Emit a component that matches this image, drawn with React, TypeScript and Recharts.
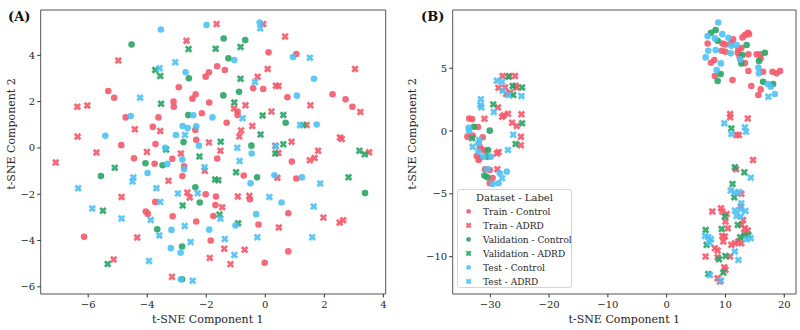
import React from 'react';
import { ScatterChart, Scatter, XAxis, YAxis, ReferenceArea, Legend } from 'recharts';

type Pt = [number, number];

const FONT = '"DejaVu Serif", serif';
const RED = '#f45a6b';
const GREEN = '#29a566';
const BLUE = '#4fc2f4';

const SERIES_NAMES = [
  'Train - Control',
  'Train - ADRD',
  'Validation - Control',
  'Validation - ADRD',
  'Test - Control',
  'Test - ADRD',
];
const SERIES_COLORS = [RED, RED, GREEN, GREEN, BLUE, BLUE];
const SERIES_MARKERS = ['circle', 'cross', 'circle', 'cross', 'circle', 'cross'];

const AXIS_X_TITLE = 't-SNE Component 1';
const AXIS_Y_TITLE = 't-SNE Component 2';
const LEGEND_TITLE = 'Dataset - Label';

// ---------- Panel (A) ----------
const A_X_TICKS = [-6, -4, -2, 0, 2, 4];
const A_Y_TICKS = [-6, -4, -2, 0, 2, 4];
const A_X_DOMAIN: Pt = [-7.61, 4.08];
const A_Y_DOMAIN: Pt = [-6.31, 5.96];

const aTrainControl: Pt[] = [
  [0.11, 4.13], [1.05, 4.06], [-1.63, 3.53], [-1.91, 3.27], [-2.02, 3.08], [-1.37, 3.37],
  [-2.93, 2.62], [-0.41, 2.58], [-0.07, 2.55], [-5.32, 2.46], [-5.12, 2.17], [-2.36, 2.32],
  [-2.47, 2.13], [0.75, 2.19], [2.28, 2.32], [2.72, 2.1], [-3.11, 2.0], [-3.1, 1.78],
  [-1.9, 1.96], [-0.94, 1.57], [-0.94, 1.42], [2.95, 1.78], [-4.73, 1.32], [-3.62, 1.32],
  [-1.31, 1.09], [-2.15, 1.5], [-3.81, 0.91], [-2.37, 0.78], [-4.88, 0.12], [-3.72, 0.17],
  [-2.34, 0.35], [-1.63, -0.46], [-4.45, -0.45], [-3.75, -0.68], [-3.15, -0.47], [-2.75, -0.79],
  [0.9, -0.59], [-2.81, -1.21], [-0.73, -1.19], [1.05, -1.32], [-2.02, -2.0], [-1.67, -2.1],
  [-0.52, -2.22], [-3.73, -2.33], [-1.69, -2.47], [-4.05, -2.75], [-3.98, -2.85], [-3.14, -2.95],
  [-1.76, -2.94], [0.78, -2.82], [-0.23, -3.31], [-2.34, -3.18], [-6.14, -3.84], [-1.85, -4.0],
  [0.78, -4.47], [-0.02, -4.96],
];
const aTrainAdrd: Pt[] = [
  [-1.65, 5.35], [-0.07, 5.35], [0.67, 4.81], [-2.67, 4.63], [-4.98, 3.78], [3.04, 3.41],
  [-0.26, 3.08], [0.08, 3.41], [0.36, 2.69], [0.45, 2.68], [-6.37, 1.78], [-6.03, 1.83],
  [-1.06, 1.7], [-0.67, 1.84], [1.53, 1.84], [3.22, 1.55], [0.21, 1.57], [1.4, 0.99],
  [-6.36, 0.49], [-4.42, 0.81], [-3.56, 0.73], [-0.82, 0.75], [-0.88, 0.5], [-0.44, 0.95],
  [2.53, 0.45], [2.59, 0.39], [0.89, 0.27], [-1.91, 0.24], [0.34, 0.1], [-5.72, -0.2],
  [-4.01, -0.17], [-2.86, -0.24], [-1.52, -0.12], [0.44, -0.22], [1.79, -0.12], [1.67, -0.43],
  [1.51, -0.53], [3.52, -0.19], [-7.1, -0.63], [-2.05, -0.98], [-3.28, -1.42], [0.41, -1.29],
  [-2.64, -1.93], [-2.56, -2.14], [-0.93, -2.1], [-0.54, -2.07], [-4.87, -2.12], [-1.46, -2.56],
  [1.97, -3.01], [2.64, -3.12], [2.52, -3.22], [0.46, -3.44], [-4.34, -3.87], [-1.39, -4.35],
  [-0.7, -4.4], [-1.88, -4.75], [-5.14, -4.82], [-1.18, -5.02], [-3.16, -5.57],
];
const aValControl: Pt[] = [
  [-4.53, 4.47], [-1.41, 4.73], [-0.68, 4.66], [-1.25, 3.87], [-2.59, 3.01], [-0.89, 2.43],
  [-1.42, 2.27], [0.69, 1.09], [-2.61, 1.42], [-2.77, 0.26], [-0.47, 0.1], [-4.06, -0.66],
  [-3.48, -0.75], [-5.57, -1.21], [-0.28, -1.27], [-2.37, -1.7], [-2.22, -2.36], [-3.66, -3.51],
  [-2.82, -4.26], [-2.82, -5.67], [3.38, -1.95],
];
const aValAdrd: Pt[] = [
  [-2.6, 4.27], [-1.68, 4.29], [-0.84, 4.36], [-3.73, 3.37], [-3.56, 3.11], [-0.84, 2.99],
  [-3.53, 1.91], [-1.05, 1.96], [-0.09, 1.4], [0.61, 1.42], [1.29, 0.99], [-0.16, 0.58],
  [-3.36, -0.07], [-1.51, 0.27], [0.61, 0.16], [-2.23, -0.37], [0.34, -0.24], [3.19, -0.12],
  [3.37, -0.27], [-5.1, -0.86], [-1.7, -1.36], [-1.59, -1.4], [2.82, -1.27], [-2.8, -2.49],
  [-5.5, -2.71], [-1.55, -2.88], [-0.92, -3.25], [-5.34, -5.01], [-0.99, -1.05],
];
const aTestControl: Pt[] = [
  [-3.54, 5.12], [-1.99, 5.31], [-0.19, 5.42], [-1.05, 3.8], [0.94, 3.93], [-2.7, 3.27],
  [1.65, 2.99], [1.07, 2.26], [-4.56, 1.38], [-2.44, 1.41], [-1.79, 1.32], [1.74, 1.01],
  [-5.42, 0.53], [-2.8, 0.95], [-2.63, 0.86], [-2.34, 0.94], [-3.03, 0.56], [-3.39, 0.01],
  [-2.25, 0.1], [-0.46, -0.24], [-2.81, -0.5], [-2.75, -0.92], [-3.99, -1.08], [0.31, -1.18],
  [1.24, -1.27], [-0.5, -1.53], [0.55, -2.36], [-0.31, -2.86], [-1.01, -3.35], [-3.18, -3.54],
  [-1.9, -3.53], [-3.2, -4.33], [-2.87, -4.53], [-2.86, -5.67], [-3.32, -0.69],
];
const aTestAdrd: Pt[] = [
  [-0.17, 5.17], [-3.05, 3.7], [1.51, 3.9], [-3.58, 3.44], [-0.35, 2.85], [-4.24, 2.17],
  [-0.77, 1.28], [1.18, 0.99], [-2.72, 0.56], [-0.95, 0.01], [0.36, 0.06], [-2.06, -0.83],
  [-0.87, -0.56], [-4.47, -1.28], [-4.5, -1.45], [1.86, -1.54], [-6.34, -1.74], [-3.69, -1.74],
  [-2.96, -1.97], [-2.29, -1.96], [0.14, -2.12], [-3.56, -2.33], [1.64, -2.53], [-5.86, -2.62],
  [-1.52, -3.05], [-4.87, -3.05], [-3.88, -3.11], [-2.73, -3.37], [-3.59, -3.78], [-2.53, -4.06],
  [-1.37, -3.93], [-0.27, -3.86], [1.59, -3.86], [-1.05, -4.62], [-3.94, -4.88], [-2.46, -5.74],
];

// ---------- Panel (B) ----------
const B_X_TICKS = [-30, -20, -10, 0, 10, 20];
const B_Y_TICKS = [-10, -5, 0, 5];
const B_X_DOMAIN: Pt = [-36.4, 22.0];
const B_Y_DOMAIN: Pt = [-12.97, 9.63];

const bTrainControl: Pt[] = [
  [-33.6, 1.0], [-33.1, 0.95], [-32.1, 0.32], [-33.9, -0.45], [-33.0, -0.37], [-31.8, -1.25],
  [-31.3, -0.5], [-31.5, -1.46], [-30.9, -1.56], [-32.3, -1.99], [-31.8, -2.17], [-32.0, -2.3],
  [-30.9, -3.05], [-30.1, -3.1], [-29.6, -3.74], [-30.1, -4.16],
  [6.97, 6.97], [11.3, 7.29], [12.9, 7.45], [13.3, 7.63], [13.8, 7.82], [14.0, 7.71],
  [9.5, 6.97], [10.0, 6.89], [12.2, 6.49], [12.7, 6.6], [9.35, 6.39], [10.0, 6.31],
  [12.1, 6.23], [13.9, 6.1], [15.3, 6.1], [15.9, 6.1], [16.0, 5.78], [8.1, 5.65],
  [7.54, 5.43], [13.3, 5.4], [13.9, 4.77], [16.4, 4.72], [18.0, 4.72], [19.3, 4.77],
  [18.7, 4.59], [8.2, 4.37], [11.2, 4.06], [14.4, 3.58], [16.0, 3.31], [15.6, 2.86],
  [11.0, 7.0], [12.4, 5.9],
];
const bTrainAdrd: Pt[] = [
  [-27.9, 4.37], [-26.8, 4.37], [-25.8, 4.37], [-28.6, 3.45], [-27.5, 3.47], [-25.7, 3.6],
  [-25.5, 3.47], [-27.3, 2.94], [-26.6, 3.07], [-28.7, 1.88], [-27.7, 1.25], [-27.0, 1.38],
  [-28.0, 1.14], [-24.7, 1.33], [-26.3, 0.66], [-25.5, 0.4], [-24.8, -0.45], [-24.8, -1.14],
  [-28.6, -1.67], [-28.9, -1.78], [-31.0, 0.98], [-28.8, -3.05],
  [10.8, 1.35], [10.8, 1.09], [13.8, 1.0], [11.9, -0.32], [12.3, -0.32], [14.7, -2.3],
  [11.8, -3.05], [12.7, -5.0], [7.76, -6.41], [9.23, -6.15], [9.46, -6.41], [10.0, -7.21],
  [13.0, -7.08], [12.7, -7.47], [13.3, -7.74], [13.8, -7.92], [10.4, -7.74], [9.46, -8.35],
  [9.9, -8.4], [9.63, -8.8], [11.6, -8.93], [12.2, -8.8], [12.7, -8.93], [13.2, -8.1],
  [11.0, -9.06], [8.2, -9.33], [8.67, -9.51], [6.63, -9.99], [8.67, -10.05], [10.8, -9.99],
  [9.8, -10.84], [10.0, -11.05], [8.67, -11.71], [9.06, -11.98], [12.6, -6.0], [10.2, -6.6],
];
const bValControl: Pt[] = [
  [-32.8, 0.34], [-30.1, 0.03], [-30.4, -1.51], [-30.5, -2.04], [-31.0, -3.55], [-30.5, -3.68],
  [7.54, 7.82], [8.33, 8.03], [8.67, 7.18], [13.6, 6.84], [12.9, 6.04], [16.7, 6.23],
  [12.7, 5.38], [15.7, 5.57], [9.18, 4.53], [8.67, 3.98], [16.4, 3.92], [18.1, 3.74],
];
const bValAdrd: Pt[] = [
  [-26.9, 4.32], [-26.2, 3.58], [-24.6, 3.47], [-26.1, 2.86], [-29.5, 2.12], [-24.6, 0.61],
  [-25.7, -1.03], [-33.1, -0.58],
  [11.0, 0.21], [11.6, -2.89], [13.2, -3.29], [11.2, -4.21], [11.5, -5.27], [9.9, -6.81],
  [12.1, -7.47], [6.63, -7.87], [9.35, -7.79], [6.8, -9.06], [12.5, -8.45], [13.2, -8.35],
  [13.9, -8.3], [8.9, -10.2], [10.0, -9.94], [9.63, -11.26], [7.08, -11.37],
];
const bTestControl: Pt[] = [
  [-33.7, 0.26], [-33.6, 0.0], [-32.0, -0.98], [-32.0, -1.64], [-31.2, -2.04], [-29.9, -2.04],
  [-30.5, -3.02], [-27.2, -3.23], [-28.4, -3.37], [-29.6, -4.21], [-28.6, -4.16],
  [8.78, 8.64], [6.97, 7.55], [8.2, 7.37], [9.46, 7.71], [10.5, 7.42], [11.0, 6.79],
  [11.9, 6.84], [7.08, 6.39], [8.33, 6.44], [10.9, 6.18], [6.63, 5.86], [9.23, 5.38],
  [12.5, 5.7], [15.6, 5.06], [15.7, 4.59], [8.5, 4.85], [17.2, 3.74], [17.7, 3.52], [18.4, 2.94],
];
const bTestAdrd: Pt[] = [
  [-28.9, 4.0], [-28.0, 3.92], [-27.9, 3.2], [-26.9, 2.86], [-24.7, 2.78], [-31.6, 2.52],
  [-31.7, 2.07], [-31.5, 1.88], [-29.4, 1.51], [-26.1, -0.29], [-27.0, -1.51], [-33.0, -1.25],
  [-31.9, -0.72], [-28.0, -3.76],
  [17.3, 2.73],
  [9.8, 0.61], [13.3, 0.29], [13.5, -0.05], [11.0, -0.24], [14.3, -3.71], [10.9, -4.74],
  [11.6, -4.9], [12.3, -4.85], [12.7, -5.75], [11.6, -6.33], [12.6, -6.23], [13.4, -6.36],
  [11.9, -6.76], [12.6, -6.81], [7.08, -8.45], [7.54, -8.61], [6.52, -8.35], [13.6, -8.61],
  [14.3, -8.53], [11.6, -9.59], [12.2, -10.26], [7.37, -11.45], [9.2, -11.9], [7.3, -8.9],
];

const PANEL_A = [aTrainControl, aTrainAdrd, aValControl, aValAdrd, aTestControl, aTestAdrd];
const PANEL_B = [bTrainControl, bTrainAdrd, bValControl, bValAdrd, bTestControl, bTestAdrd];

// ---------- markers ----------
// filled "X" marker: a plus outline rotated by 45 degrees
const ARM = 3.9;
const HALF = 1.4;
const PLUS: Pt[] = [
  [HALF, ARM], [HALF, HALF], [ARM, HALF], [ARM, -HALF], [HALF, -HALF], [HALF, -ARM],
  [-HALF, -ARM], [-HALF, -HALF], [-ARM, -HALF], [-ARM, HALF], [-HALF, HALF], [-HALF, ARM],
];
const X_OUTLINE: Pt[] = PLUS.map(([a, b]) => [(a - b) / Math.SQRT2, (a + b) / Math.SQRT2]);

function markerEl(kind: string, color: string, cx: number, cy: number, scale = 1, key?: string) {
  if (kind === 'circle') {
    return <circle key={key} cx={cx} cy={cy} r={3.3 * scale} fill={color} fillOpacity={0.9} />;
  }
  const pts = X_OUTLINE.map(([a, b]) => `${cx + a * scale},${cy + b * scale}`).join(' ');
  return <polygon key={key} points={pts} fill={color} fillOpacity={0.9} />;
}

const makeShape = (kind: string, color: string) => (props: any) => {
  if (props.cx == null || props.cy == null) return <g />;
  return markerEl(kind, color, props.cx, props.cy);
};

const fmt = (v: number) => String(v).replace('-', '\u2212');

const tickStyle = { fontFamily: FONT, fontSize: 10, fill: '#262626' };

function LegendBox() {
  return (
    <svg width={115} height={99} style={{ display: 'block' }}>
      <rect x={0.5} y={0.5} width={114} height={98} rx={2.5} fill="#fff" fillOpacity={0.85} stroke="#d4d4d4" />
      <text x={57.5} y={11.8} textAnchor="middle" fontFamily={FONT} fontSize={10} fill="#262626">
        {LEGEND_TITLE}
      </text>
      {SERIES_NAMES.map((name, i) => {
        const cy = 22.4 + i * 14;
        return (
          <g key={name}>
            {markerEl(SERIES_MARKERS[i], SERIES_COLORS[i], 11.6, cy, SERIES_MARKERS[i] === 'circle' ? 0.72 : 0.78)}
            <text x={26} y={cy + 3.2} fontFamily={FONT} fontSize={9} fill="#262626">
              {name}
            </text>
          </g>
        );
      })}
    </svg>
  );
}

type PanelProps = {
  data: Pt[][];
  xDomain: Pt;
  yDomain: Pt;
  xTicks: number[];
  yTicks: number[];
  yAxisWidth: number;
  rightMargin: number;
  xTitleShift: number;
  yTitleX: number;
  yTitleY: number;
  withLegend?: boolean;
};

function Panel(p: PanelProps) {
  return (
    <ScatterChart width={400} height={330} margin={{ top: 10, right: p.rightMargin, bottom: 0, left: 0 }}>
      <XAxis
        type="number"
        dataKey="x"
        domain={p.xDomain}
        allowDataOverflow
        ticks={p.xTicks}
        interval={0}
        tickFormatter={fmt}
        height={36}
        axisLine={false}
        tickLine={{ stroke: '#333' }}
        tickSize={3.5}
        tickMargin={3}
        tick={tickStyle}
        label={{
          content: (lp: any) => {
            const vb = lp.viewBox || { x: 0, y: 0, width: 0 };
            return (
              <text
                x={vb.x + vb.width / 2 + p.xTitleShift}
                y={vb.y + 28.5}
                textAnchor="middle"
                fontFamily={FONT}
                fontSize={11}
                fill="#262626"
              >
                {AXIS_X_TITLE}
              </text>
            );
          },
        }}
      />
      <YAxis
        type="number"
        dataKey="y"
        domain={p.yDomain}
        allowDataOverflow
        ticks={p.yTicks}
        interval={0}
        tickFormatter={fmt}
        width={p.yAxisWidth}
        axisLine={false}
        tickLine={{ stroke: '#333' }}
        tickSize={3.5}
        tickMargin={2}
        tick={tickStyle}
        label={{
          content: () => (
            <text
              x={p.yTitleX}
              y={p.yTitleY}
              transform={`rotate(-90, ${p.yTitleX}, ${p.yTitleY})`}
              textAnchor="middle"
              fontFamily={FONT}
              fontSize={11}
              fill="#262626"
            >
              {AXIS_Y_TITLE}
            </text>
          ),
        }}
      />
      <ReferenceArea
        x1={p.xDomain[0]}
        x2={p.xDomain[1]}
        y1={p.yDomain[0]}
        y2={p.yDomain[1]}
        fill="none"
        stroke="#555"
        strokeWidth={1}
        strokeOpacity={1}
        fillOpacity={0}
      />
      {p.data.map((pts, i) => (
        <Scatter
          key={SERIES_NAMES[i]}
          name={SERIES_NAMES[i]}
          data={pts.map(([x, y]) => ({ x, y }))}
          fill={SERIES_COLORS[i]}
          shape={makeShape(SERIES_MARKERS[i], SERIES_COLORS[i])}
          isAnimationActive={false}
        />
      ))}
      {p.withLegend && (
        <Legend
          layout="vertical"
          align="center"
          verticalAlign="middle"
          content={() => <LegendBox />}
          wrapperStyle={{ left: 56.7, top: 189.3, width: 115, height: 99, bottom: 'auto', right: 'auto' }}
        />
      )}
    </ScatterChart>
  );
}

const panelLabel: React.CSSProperties = {
  position: 'absolute',
  fontFamily: FONT,
  fontWeight: 'bold',
  fontSize: 13,
  color: '#111',
  lineHeight: '13px',
};

export default function App() {
  return (
    <div
      style={{
        position: 'absolute',
        left: 0,
        top: 0,
        width: 800,
        height: 330,
        background: '#fff',
        fontFamily: FONT,
        overflow: 'hidden',
      }}
    >
      <div style={{ position: 'absolute', left: 0, top: 0 }}>
        <Panel
          data={PANEL_A}
          xDomain={A_X_DOMAIN}
          yDomain={A_Y_DOMAIN}
          xTicks={A_X_TICKS}
          yTicks={A_Y_TICKS}
          yAxisWidth={40.7}
          rightMargin={14.3}
          xTitleShift={-5.4}
          yTitleX={15}
          yTitleY={134}
        />
      </div>
      <div style={{ position: 'absolute', left: 400, top: 0 }}>
        <Panel
          data={PANEL_B}
          xDomain={B_X_DOMAIN}
          yDomain={B_Y_DOMAIN}
          xTicks={B_X_TICKS}
          yTicks={B_Y_TICKS}
          yAxisWidth={52.7}
          rightMargin={4}
          xTitleShift={0}
          yTitleX={16}
          yTitleY={134}
          withLegend
        />
      </div>
      <div style={{ ...panelLabel, left: 8, top: 10 }}>(A)</div>
      <div style={{ ...panelLabel, left: 421, top: 10 }}>(B)</div>
    </div>
  );
}
